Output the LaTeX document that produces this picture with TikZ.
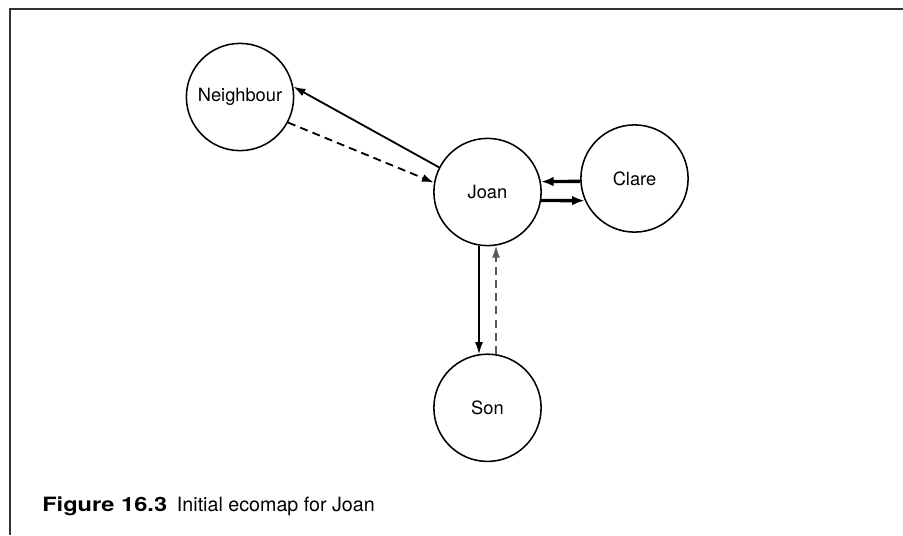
\documentclass[tikz,border=0pt]{standalone}
\usepackage{fontspec}
\setmainfont{TeX Gyre Heros}
\usepackage{tikz}
\usetikzlibrary{arrows.meta, positioning}

\begin{document}
\begin{tikzpicture}[
    x=0.025cm, y=-0.025cm,
    node distance=2.675cm,
    person/.style={circle, draw, line width=1.1pt, minimum size=2.68cm, inner sep=0pt,
                   font=\fontsize{13}{15}\selectfont},
    arrow/.style={-{Latex[length=0.3cm, width=0.2cm]}, line width=1.3pt},
    thinarrow/.style={-{Latex[length=0.3cm, width=0.2cm]}, line width=0.9pt},
    boldarrow/.style={-{Latex[length=0.32cm, width=0.24cm]}, line width=2.4pt},
    weak/.style={dash pattern=on 0.2cm off 0.13cm}
]
\useasboundingbox (0,0) rectangle (903,535);
\draw[line width=1pt, black!80] (10,535) -- (10,9) -- (903,9);

\node[person] (joan) at (487.5,192) {Joan};
\node[person] (neighbour) at (240,97) {Neighbour};
\node[person] (clare) at (634.5,178.5) {Clare};
\node[person] (son) [below=of joan] {Son};

\draw[arrow] (joan.153) -- (neighbour.11);
\draw[arrow, weak] (neighbour.-28) -- (joan.170);
\draw[boldarrow] (clare.183.4) -- (joan.11);
\draw[boldarrow] (joan.-9.4) -- (clare.204);
\draw[thinarrow] (joan.261) -- (son.99);
\draw[thinarrow, weak, black!65] (son.81) -- (joan.279);

\node[anchor=base west, inner sep=0pt, font=\fontsize{14}{17}\selectfont] (caption) at (42,511.5)
    {\scalebox{1.2}[1]{\textbf{Figure 16.3}}\hspace{0.5em}Initial ecomap for Joan};
\end{tikzpicture}
\end{document}
